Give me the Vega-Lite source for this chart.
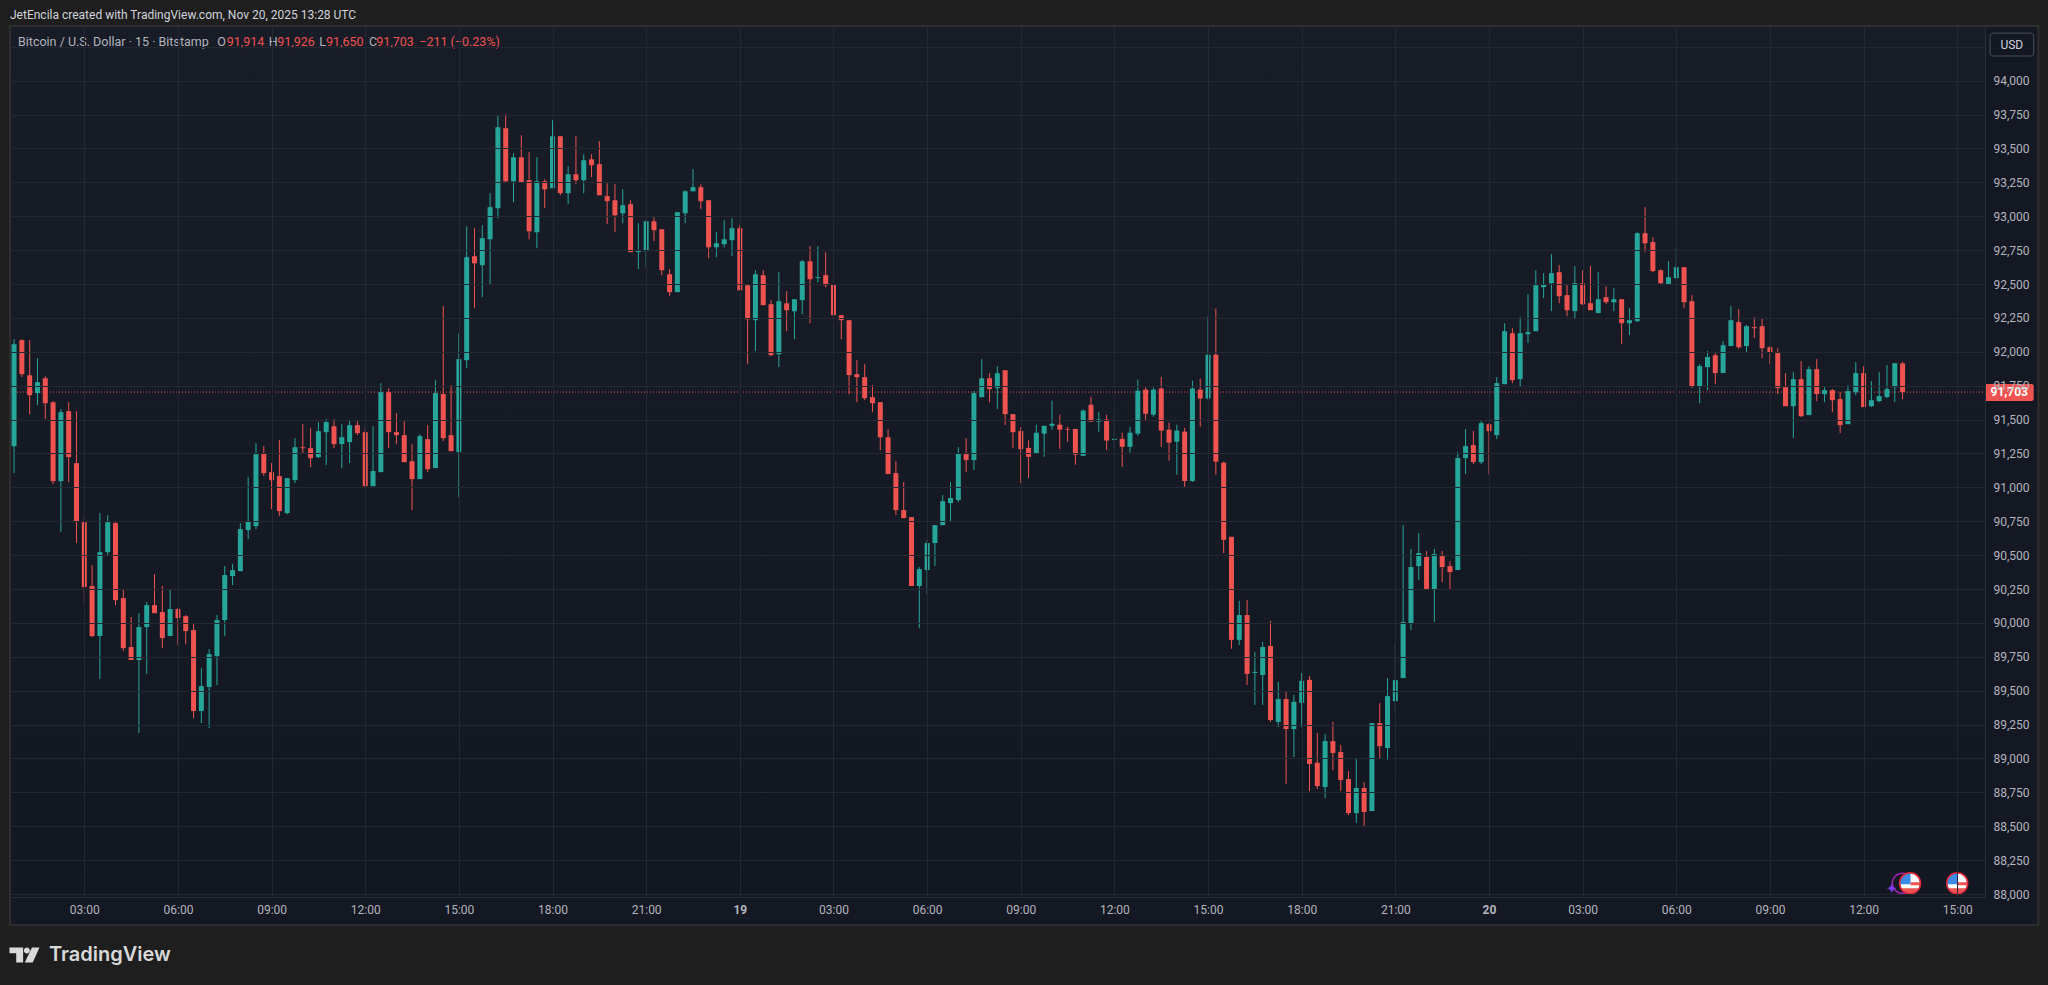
{
  "$schema": "https://vega.github.io/schema/vega-lite/v6.json",
  "autosize": {"type": "none"},
  "width": 1974,
  "height": 870,
  "padding": {"left": 11, "top": 27, "right": 63, "bottom": 88},
  "background": "#1e1e1e",
  "view": {"stroke": null, "fill": {"gradient": "linear", "x1": 0, "y1": 0, "x2": 0, "y2": 1, "stops": [{"offset": 0, "color": "#181c27"}, {"offset": 1, "color": "#131722"}]}},
  "config": {"font": "Roboto"},
  "datasets": {
    "candles": [
      {"t":"2025-11-18T00:45:00Z","o":91304,"h":92093,"l":91105,"c":92056},
      {"t":"2025-11-18T01:00:00Z","o":92086,"h":92093,"l":91813,"c":91835},
      {"t":"2025-11-18T01:15:00Z","o":91827,"h":92086,"l":91540,"c":91680},
      {"t":"2025-11-18T01:30:00Z","o":91695,"h":91953,"l":91606,"c":91776},
      {"t":"2025-11-18T01:45:00Z","o":91805,"h":91820,"l":91503,"c":91621},
      {"t":"2025-11-18T02:00:00Z","o":91628,"h":91636,"l":91024,"c":91046},
      {"t":"2025-11-18T02:15:00Z","o":91046,"h":91577,"l":90670,"c":91555},
      {"t":"2025-11-18T02:30:00Z","o":91562,"h":91628,"l":91038,"c":91223},
      {"t":"2025-11-18T02:45:00Z","o":91179,"h":91562,"l":90589,"c":90751},
      {"t":"2025-11-18T03:00:00Z","o":90743,"h":90780,"l":90154,"c":90264},
      {"t":"2025-11-18T03:15:00Z","o":90272,"h":90426,"l":89895,"c":89903},
      {"t":"2025-11-18T03:30:00Z","o":89903,"h":90810,"l":89586,"c":90522},
      {"t":"2025-11-18T03:45:00Z","o":90522,"h":90795,"l":90493,"c":90743},
      {"t":"2025-11-18T04:00:00Z","o":90736,"h":90743,"l":90131,"c":90168},
      {"t":"2025-11-18T04:15:00Z","o":90183,"h":90249,"l":89792,"c":89814},
      {"t":"2025-11-18T04:30:00Z","o":89822,"h":90043,"l":89726,"c":89726},
      {"t":"2025-11-18T04:45:00Z","o":89726,"h":90072,"l":89188,"c":89969},
      {"t":"2025-11-18T05:00:00Z","o":89969,"h":90154,"l":89623,"c":90131},
      {"t":"2025-11-18T05:15:00Z","o":90131,"h":90360,"l":90072,"c":90072},
      {"t":"2025-11-18T05:30:00Z","o":90080,"h":90272,"l":89814,"c":89888},
      {"t":"2025-11-18T05:45:00Z","o":89903,"h":90249,"l":89903,"c":90102},
      {"t":"2025-11-18T06:00:00Z","o":90102,"h":90109,"l":89836,"c":90036},
      {"t":"2025-11-18T06:15:00Z","o":90050,"h":90058,"l":89844,"c":89940},
      {"t":"2025-11-18T06:30:00Z","o":89947,"h":89999,"l":89298,"c":89350},
      {"t":"2025-11-18T06:45:00Z","o":89350,"h":89667,"l":89261,"c":89534},
      {"t":"2025-11-18T07:00:00Z","o":89527,"h":89807,"l":89224,"c":89770},
      {"t":"2025-11-18T07:15:00Z","o":89755,"h":90058,"l":89541,"c":90021},
      {"t":"2025-11-18T07:30:00Z","o":90021,"h":90419,"l":89903,"c":90353},
      {"t":"2025-11-18T07:45:00Z","o":90345,"h":90434,"l":90279,"c":90389},
      {"t":"2025-11-18T08:00:00Z","o":90382,"h":90736,"l":90382,"c":90692},
      {"t":"2025-11-18T08:15:00Z","o":90685,"h":91075,"l":90618,"c":90751},
      {"t":"2025-11-18T08:30:00Z","o":90714,"h":91326,"l":90692,"c":91245},
      {"t":"2025-11-18T08:45:00Z","o":91252,"h":91304,"l":91083,"c":91105},
      {"t":"2025-11-18T09:00:00Z","o":91112,"h":91179,"l":90839,"c":91053},
      {"t":"2025-11-18T09:15:00Z","o":91083,"h":91348,"l":90788,"c":90825},
      {"t":"2025-11-18T09:30:00Z","o":90810,"h":91068,"l":90802,"c":91068},
      {"t":"2025-11-18T09:45:00Z","o":91053,"h":91363,"l":91031,"c":91296},
      {"t":"2025-11-18T10:00:00Z","o":91296,"h":91466,"l":91252,"c":91289},
      {"t":"2025-11-18T10:15:00Z","o":91289,"h":91437,"l":91149,"c":91215},
      {"t":"2025-11-18T10:30:00Z","o":91223,"h":91481,"l":91215,"c":91414},
      {"t":"2025-11-18T10:45:00Z","o":91407,"h":91503,"l":91164,"c":91481},
      {"t":"2025-11-18T11:00:00Z","o":91451,"h":91503,"l":91289,"c":91319},
      {"t":"2025-11-18T11:15:00Z","o":91319,"h":91466,"l":91142,"c":91370},
      {"t":"2025-11-18T11:30:00Z","o":91334,"h":91496,"l":91179,"c":91459},
      {"t":"2025-11-18T11:45:00Z","o":91459,"h":91496,"l":91385,"c":91400},
      {"t":"2025-11-18T12:00:00Z","o":91407,"h":91444,"l":91009,"c":91009},
      {"t":"2025-11-18T12:15:00Z","o":91009,"h":91452,"l":91009,"c":91120},
      {"t":"2025-11-18T12:30:00Z","o":91112,"h":91769,"l":91112,"c":91702},
      {"t":"2025-11-18T12:45:00Z","o":91702,"h":91732,"l":91289,"c":91407},
      {"t":"2025-11-18T13:00:00Z","o":91407,"h":91547,"l":91319,"c":91385},
      {"t":"2025-11-18T13:15:00Z","o":91385,"h":91488,"l":91186,"c":91186},
      {"t":"2025-11-18T13:30:00Z","o":91193,"h":91319,"l":90832,"c":91061},
      {"t":"2025-11-18T13:45:00Z","o":91061,"h":91393,"l":91061,"c":91378},
      {"t":"2025-11-18T14:00:00Z","o":91356,"h":91459,"l":91112,"c":91134},
      {"t":"2025-11-18T14:15:00Z","o":91142,"h":91791,"l":91142,"c":91695},
      {"t":"2025-11-18T14:30:00Z","o":91688,"h":92336,"l":91341,"c":91363},
      {"t":"2025-11-18T14:45:00Z","o":91385,"h":91754,"l":91267,"c":91267},
      {"t":"2025-11-18T15:00:00Z","o":91260,"h":92137,"l":90928,"c":91946},
      {"t":"2025-11-18T15:15:00Z","o":91938,"h":92926,"l":91879,"c":92698},
      {"t":"2025-11-18T15:30:00Z","o":92705,"h":92912,"l":92322,"c":92653},
      {"t":"2025-11-18T15:45:00Z","o":92639,"h":92934,"l":92403,"c":92838},
      {"t":"2025-11-18T16:00:00Z","o":92830,"h":93170,"l":92499,"c":93067},
      {"t":"2025-11-18T16:15:00Z","o":93059,"h":93745,"l":92985,"c":93656},
      {"t":"2025-11-18T16:30:00Z","o":93649,"h":93752,"l":93251,"c":93258},
      {"t":"2025-11-18T16:45:00Z","o":93258,"h":93465,"l":93103,"c":93435},
      {"t":"2025-11-18T17:00:00Z","o":93435,"h":93597,"l":93251,"c":93251},
      {"t":"2025-11-18T17:15:00Z","o":93266,"h":93472,"l":92830,"c":92889},
      {"t":"2025-11-18T17:30:00Z","o":92882,"h":93435,"l":92764,"c":93258},
      {"t":"2025-11-18T17:45:00Z","o":93258,"h":93273,"l":93059,"c":93199},
      {"t":"2025-11-18T18:00:00Z","o":93207,"h":93708,"l":93207,"c":93590},
      {"t":"2025-11-18T18:15:00Z","o":93590,"h":93590,"l":93155,"c":93170},
      {"t":"2025-11-18T18:30:00Z","o":93170,"h":93369,"l":93089,"c":93310},
      {"t":"2025-11-18T18:45:00Z","o":93310,"h":93590,"l":93236,"c":93266},
      {"t":"2025-11-18T19:00:00Z","o":93266,"h":93457,"l":93170,"c":93413},
      {"t":"2025-11-18T19:15:00Z","o":93420,"h":93457,"l":93288,"c":93376},
      {"t":"2025-11-18T19:30:00Z","o":93384,"h":93553,"l":93155,"c":93155},
      {"t":"2025-11-18T19:45:00Z","o":93148,"h":93243,"l":92941,"c":93111},
      {"t":"2025-11-18T20:00:00Z","o":93118,"h":93236,"l":92882,"c":93007},
      {"t":"2025-11-18T20:15:00Z","o":93022,"h":93199,"l":92948,"c":93081},
      {"t":"2025-11-18T20:30:00Z","o":93089,"h":93118,"l":92735,"c":92735},
      {"t":"2025-11-18T20:45:00Z","o":92735,"h":92948,"l":92609,"c":92749},
      {"t":"2025-11-18T21:00:00Z","o":92742,"h":92971,"l":92624,"c":92963},
      {"t":"2025-11-18T21:15:00Z","o":92963,"h":92993,"l":92816,"c":92897},
      {"t":"2025-11-18T21:30:00Z","o":92904,"h":92904,"l":92565,"c":92602},
      {"t":"2025-11-18T21:45:00Z","o":92572,"h":92609,"l":92410,"c":92440},
      {"t":"2025-11-18T22:00:00Z","o":92440,"h":93030,"l":92440,"c":93030},
      {"t":"2025-11-18T22:15:00Z","o":93022,"h":93192,"l":92948,"c":93184},
      {"t":"2025-11-18T22:30:00Z","o":93184,"h":93347,"l":93184,"c":93214},
      {"t":"2025-11-18T22:45:00Z","o":93214,"h":93236,"l":93052,"c":93111},
      {"t":"2025-11-18T23:00:00Z","o":93118,"h":93118,"l":92690,"c":92771},
      {"t":"2025-11-18T23:15:00Z","o":92771,"h":92882,"l":92698,"c":92801},
      {"t":"2025-11-18T23:30:00Z","o":92794,"h":92971,"l":92771,"c":92830},
      {"t":"2025-11-18T23:45:00Z","o":92823,"h":92985,"l":92705,"c":92912},
      {"t":"2025-11-19T00:00:00Z","o":92912,"h":92934,"l":92454,"c":92454},
      {"t":"2025-11-19T00:15:00Z","o":92491,"h":92499,"l":91909,"c":92240},
      {"t":"2025-11-19T00:30:00Z","o":92233,"h":92602,"l":92005,"c":92572},
      {"t":"2025-11-19T00:45:00Z","o":92565,"h":92602,"l":92344,"c":92344},
      {"t":"2025-11-19T01:00:00Z","o":92351,"h":92381,"l":91968,"c":91975},
      {"t":"2025-11-19T01:15:00Z","o":91982,"h":92587,"l":91887,"c":92373},
      {"t":"2025-11-19T01:30:00Z","o":92358,"h":92447,"l":92152,"c":92307},
      {"t":"2025-11-19T01:45:00Z","o":92299,"h":92388,"l":92093,"c":92388},
      {"t":"2025-11-19T02:00:00Z","o":92381,"h":92676,"l":92277,"c":92668},
      {"t":"2025-11-19T02:15:00Z","o":92668,"h":92779,"l":92211,"c":92535},
      {"t":"2025-11-19T02:30:00Z","o":92543,"h":92779,"l":92513,"c":92550},
      {"t":"2025-11-19T02:45:00Z","o":92565,"h":92735,"l":92476,"c":92491},
      {"t":"2025-11-19T03:00:00Z","o":92499,"h":92565,"l":92270,"c":92270},
      {"t":"2025-11-19T03:15:00Z","o":92270,"h":92270,"l":92093,"c":92233},
      {"t":"2025-11-19T03:30:00Z","o":92233,"h":92233,"l":91687,"c":91828},
      {"t":"2025-11-19T03:45:00Z","o":91835,"h":91938,"l":91628,"c":91813},
      {"t":"2025-11-19T04:00:00Z","o":91813,"h":91909,"l":91643,"c":91658},
      {"t":"2025-11-19T04:15:00Z","o":91665,"h":91754,"l":91555,"c":91621},
      {"t":"2025-11-19T04:30:00Z","o":91628,"h":91628,"l":91274,"c":91370},
      {"t":"2025-11-19T04:45:00Z","o":91370,"h":91429,"l":91098,"c":91098},
      {"t":"2025-11-19T05:00:00Z","o":91105,"h":91193,"l":90795,"c":90832},
      {"t":"2025-11-19T05:15:00Z","o":90832,"h":91038,"l":90773,"c":90773},
      {"t":"2025-11-19T05:30:00Z","o":90780,"h":90780,"l":90272,"c":90272},
      {"t":"2025-11-19T05:45:00Z","o":90272,"h":90412,"l":89961,"c":90397},
      {"t":"2025-11-19T06:00:00Z","o":90390,"h":90611,"l":90213,"c":90589},
      {"t":"2025-11-19T06:15:00Z","o":90589,"h":90721,"l":90419,"c":90721},
      {"t":"2025-11-19T06:30:00Z","o":90721,"h":90943,"l":90721,"c":90898},
      {"t":"2025-11-19T06:45:00Z","o":90884,"h":91038,"l":90744,"c":90921},
      {"t":"2025-11-19T07:00:00Z","o":90906,"h":91297,"l":90891,"c":91252},
      {"t":"2025-11-19T07:15:00Z","o":91252,"h":91363,"l":91112,"c":91201},
      {"t":"2025-11-19T07:30:00Z","o":91201,"h":91710,"l":91127,"c":91695},
      {"t":"2025-11-19T07:45:00Z","o":91665,"h":91946,"l":91665,"c":91805},
      {"t":"2025-11-19T08:00:00Z","o":91805,"h":91842,"l":91628,"c":91724},
      {"t":"2025-11-19T08:15:00Z","o":91732,"h":91894,"l":91577,"c":91842},
      {"t":"2025-11-19T08:30:00Z","o":91864,"h":91864,"l":91459,"c":91540},
      {"t":"2025-11-19T08:45:00Z","o":91540,"h":91540,"l":91289,"c":91407},
      {"t":"2025-11-19T09:00:00Z","o":91415,"h":91444,"l":91031,"c":91282},
      {"t":"2025-11-19T09:15:00Z","o":91291,"h":91347,"l":91070,"c":91225},
      {"t":"2025-11-19T09:30:00Z","o":91248,"h":91462,"l":91248,"c":91403},
      {"t":"2025-11-19T09:45:00Z","o":91396,"h":91454,"l":91225,"c":91454},
      {"t":"2025-11-19T10:00:00Z","o":91454,"h":91640,"l":91426,"c":91469},
      {"t":"2025-11-19T10:15:00Z","o":91462,"h":91536,"l":91284,"c":91426},
      {"t":"2025-11-19T10:30:00Z","o":91431,"h":91447,"l":91337,"c":91426},
      {"t":"2025-11-19T10:45:00Z","o":91431,"h":91431,"l":91167,"c":91241},
      {"t":"2025-11-19T11:00:00Z","o":91233,"h":91574,"l":91233,"c":91566},
      {"t":"2025-11-19T11:15:00Z","o":91609,"h":91668,"l":91485,"c":91485},
      {"t":"2025-11-19T11:30:00Z","o":91485,"h":91558,"l":91411,"c":91500},
      {"t":"2025-11-19T11:45:00Z","o":91500,"h":91536,"l":91276,"c":91345},
      {"t":"2025-11-19T12:00:00Z","o":91350,"h":91536,"l":91284,"c":91358},
      {"t":"2025-11-19T12:15:00Z","o":91358,"h":91403,"l":91152,"c":91299},
      {"t":"2025-11-19T12:30:00Z","o":91299,"h":91447,"l":91256,"c":91403},
      {"t":"2025-11-19T12:45:00Z","o":91396,"h":91795,"l":91380,"c":91713},
      {"t":"2025-11-19T13:00:00Z","o":91721,"h":91736,"l":91492,"c":91543},
      {"t":"2025-11-19T13:15:00Z","o":91536,"h":91736,"l":91520,"c":91721},
      {"t":"2025-11-19T13:30:00Z","o":91729,"h":91815,"l":91299,"c":91419},
      {"t":"2025-11-19T13:45:00Z","o":91426,"h":91477,"l":91197,"c":91330},
      {"t":"2025-11-19T14:00:00Z","o":91337,"h":91462,"l":91093,"c":91419},
      {"t":"2025-11-19T14:15:00Z","o":91411,"h":91439,"l":91004,"c":91047},
      {"t":"2025-11-19T14:30:00Z","o":91047,"h":91787,"l":91040,"c":91729},
      {"t":"2025-11-19T14:45:00Z","o":91721,"h":91802,"l":91447,"c":91655},
      {"t":"2025-11-19T15:00:00Z","o":91655,"h":92260,"l":91647,"c":91978},
      {"t":"2025-11-19T15:15:00Z","o":91978,"h":92319,"l":91093,"c":91190},
      {"t":"2025-11-19T15:30:00Z","o":91182,"h":91190,"l":90516,"c":90613},
      {"t":"2025-11-19T15:45:00Z","o":90635,"h":90635,"l":89809,"c":89875},
      {"t":"2025-11-19T16:00:00Z","o":89875,"h":90163,"l":89837,"c":90058},
      {"t":"2025-11-19T16:15:00Z","o":90058,"h":90170,"l":89542,"c":89624},
      {"t":"2025-11-19T16:30:00Z","o":89631,"h":89786,"l":89395,"c":89639},
      {"t":"2025-11-19T16:45:00Z","o":89616,"h":89860,"l":89395,"c":89822},
      {"t":"2025-11-19T17:00:00Z","o":89830,"h":90015,"l":89270,"c":89283},
      {"t":"2025-11-19T17:15:00Z","o":89270,"h":89565,"l":89232,"c":89438},
      {"t":"2025-11-19T17:30:00Z","o":89438,"h":89491,"l":88813,"c":89217},
      {"t":"2025-11-19T17:45:00Z","o":89217,"h":89469,"l":89011,"c":89418},
      {"t":"2025-11-19T18:00:00Z","o":89410,"h":89631,"l":89232,"c":89573},
      {"t":"2025-11-19T18:15:00Z","o":89580,"h":89608,"l":88759,"c":88960},
      {"t":"2025-11-19T18:30:00Z","o":88968,"h":89189,"l":88774,"c":88797},
      {"t":"2025-11-19T18:45:00Z","o":88790,"h":89181,"l":88708,"c":89128},
      {"t":"2025-11-19T19:00:00Z","o":89128,"h":89270,"l":88914,"c":89041},
      {"t":"2025-11-19T19:15:00Z","o":89047,"h":89099,"l":88760,"c":88841},
      {"t":"2025-11-19T19:30:00Z","o":88848,"h":88907,"l":88583,"c":88597},
      {"t":"2025-11-19T19:45:00Z","o":88597,"h":88995,"l":88524,"c":88782},
      {"t":"2025-11-19T20:00:00Z","o":88782,"h":88826,"l":88502,"c":88605},
      {"t":"2025-11-19T20:15:00Z","o":88612,"h":89261,"l":88612,"c":89261},
      {"t":"2025-11-19T20:30:00Z","o":89261,"h":89408,"l":89003,"c":89091},
      {"t":"2025-11-19T20:45:00Z","o":89077,"h":89593,"l":88988,"c":89460},
      {"t":"2025-11-19T21:00:00Z","o":89423,"h":89851,"l":89342,"c":89578},
      {"t":"2025-11-19T21:15:00Z","o":89593,"h":90722,"l":89593,"c":90006},
      {"t":"2025-11-19T21:30:00Z","o":89998,"h":90545,"l":89947,"c":90412},
      {"t":"2025-11-19T21:45:00Z","o":90419,"h":90663,"l":90316,"c":90515},
      {"t":"2025-11-19T22:00:00Z","o":90486,"h":90530,"l":90250,"c":90250},
      {"t":"2025-11-19T22:15:00Z","o":90242,"h":90545,"l":90006,"c":90508},
      {"t":"2025-11-19T22:30:00Z","o":90493,"h":90530,"l":90301,"c":90412},
      {"t":"2025-11-19T22:45:00Z","o":90419,"h":90456,"l":90242,"c":90375},
      {"t":"2025-11-19T23:00:00Z","o":90390,"h":91260,"l":90390,"c":91216},
      {"t":"2025-11-19T23:15:00Z","o":91216,"h":91430,"l":91098,"c":91304},
      {"t":"2025-11-19T23:30:00Z","o":91312,"h":91415,"l":91171,"c":91186},
      {"t":"2025-11-19T23:45:00Z","o":91186,"h":91496,"l":91171,"c":91474},
      {"t":"2025-11-20T00:00:00Z","o":91466,"h":91474,"l":91098,"c":91415},
      {"t":"2025-11-20T00:15:00Z","o":91385,"h":91813,"l":91356,"c":91769},
      {"t":"2025-11-20T00:30:00Z","o":91761,"h":92211,"l":91761,"c":92152},
      {"t":"2025-11-20T00:45:00Z","o":92137,"h":92174,"l":91769,"c":91791},
      {"t":"2025-11-20T01:00:00Z","o":91798,"h":92255,"l":91739,"c":92137},
      {"t":"2025-11-20T01:15:00Z","o":92130,"h":92425,"l":92064,"c":92145},
      {"t":"2025-11-20T01:30:00Z","o":92152,"h":92602,"l":92152,"c":92491},
      {"t":"2025-11-20T01:45:00Z","o":92477,"h":92580,"l":92396,"c":92499},
      {"t":"2025-11-20T02:00:00Z","o":92506,"h":92720,"l":92300,"c":92580},
      {"t":"2025-11-20T02:15:00Z","o":92587,"h":92639,"l":92359,"c":92410},
      {"t":"2025-11-20T02:30:00Z","o":92418,"h":92499,"l":92263,"c":92307},
      {"t":"2025-11-20T02:45:00Z","o":92300,"h":92632,"l":92241,"c":92506},
      {"t":"2025-11-20T03:00:00Z","o":92506,"h":92602,"l":92344,"c":92351},
      {"t":"2025-11-20T03:15:00Z","o":92359,"h":92632,"l":92307,"c":92307},
      {"t":"2025-11-20T03:30:00Z","o":92285,"h":92587,"l":92285,"c":92388},
      {"t":"2025-11-20T03:45:00Z","o":92403,"h":92484,"l":92351,"c":92366},
      {"t":"2025-11-20T04:00:00Z","o":92366,"h":92469,"l":92300,"c":92388},
      {"t":"2025-11-20T04:15:00Z","o":92388,"h":92388,"l":92056,"c":92211},
      {"t":"2025-11-20T04:30:00Z","o":92211,"h":92322,"l":92123,"c":92233},
      {"t":"2025-11-20T04:45:00Z","o":92226,"h":92882,"l":92219,"c":92875},
      {"t":"2025-11-20T05:00:00Z","o":92875,"h":93067,"l":92735,"c":92801},
      {"t":"2025-11-20T05:15:00Z","o":92809,"h":92845,"l":92587,"c":92595},
      {"t":"2025-11-20T05:30:00Z","o":92602,"h":92609,"l":92499,"c":92506},
      {"t":"2025-11-20T05:45:00Z","o":92499,"h":92668,"l":92499,"c":92550},
      {"t":"2025-11-20T06:00:00Z","o":92543,"h":92772,"l":92536,"c":92624},
      {"t":"2025-11-20T06:15:00Z","o":92624,"h":92624,"l":92322,"c":92366},
      {"t":"2025-11-20T06:30:00Z","o":92373,"h":92418,"l":91732,"c":91747},
      {"t":"2025-11-20T06:45:00Z","o":91747,"h":91909,"l":91621,"c":91894},
      {"t":"2025-11-20T07:00:00Z","o":91887,"h":92005,"l":91717,"c":91961},
      {"t":"2025-11-20T07:15:00Z","o":91975,"h":91990,"l":91761,"c":91843},
      {"t":"2025-11-20T07:30:00Z","o":91843,"h":92079,"l":91843,"c":92049},
      {"t":"2025-11-20T07:45:00Z","o":92042,"h":92337,"l":92042,"c":92233},
      {"t":"2025-11-20T08:00:00Z","o":92219,"h":92315,"l":92020,"c":92034},
      {"t":"2025-11-20T08:15:00Z","o":92042,"h":92197,"l":91997,"c":92189},
      {"t":"2025-11-20T08:30:00Z","o":92182,"h":92255,"l":92101,"c":92174},
      {"t":"2025-11-20T08:45:00Z","o":92189,"h":92248,"l":91953,"c":92027},
      {"t":"2025-11-20T09:00:00Z","o":92034,"h":92042,"l":91909,"c":91997},
      {"t":"2025-11-20T09:15:00Z","o":91997,"h":92027,"l":91688,"c":91732},
      {"t":"2025-11-20T09:30:00Z","o":91739,"h":91843,"l":91599,"c":91599},
      {"t":"2025-11-20T09:45:00Z","o":91599,"h":91850,"l":91363,"c":91798},
      {"t":"2025-11-20T10:00:00Z","o":91798,"h":91931,"l":91518,"c":91525},
      {"t":"2025-11-20T10:15:00Z","o":91533,"h":91894,"l":91533,"c":91872},
      {"t":"2025-11-20T10:30:00Z","o":91872,"h":91946,"l":91636,"c":91688},
      {"t":"2025-11-20T10:45:00Z","o":91688,"h":91739,"l":91629,"c":91717},
      {"t":"2025-11-20T11:00:00Z","o":91717,"h":91725,"l":91555,"c":91643},
      {"t":"2025-11-20T11:15:00Z","o":91651,"h":91702,"l":91400,"c":91459},
      {"t":"2025-11-20T11:30:00Z","o":91466,"h":91754,"l":91466,"c":91710},
      {"t":"2025-11-20T11:45:00Z","o":91702,"h":91924,"l":91680,"c":91843},
      {"t":"2025-11-20T12:00:00Z","o":91843,"h":91894,"l":91592,"c":91592},
      {"t":"2025-11-20T12:15:00Z","o":91599,"h":91784,"l":91592,"c":91643},
      {"t":"2025-11-20T12:30:00Z","o":91636,"h":91850,"l":91629,"c":91673},
      {"t":"2025-11-20T12:45:00Z","o":91666,"h":91902,"l":91658,"c":91725},
      {"t":"2025-11-20T13:00:00Z","o":91739,"h":91916,"l":91629,"c":91916},
      {"t":"2025-11-20T13:15:00Z","o":91914,"h":91926,"l":91650,"c":91703}
    ],
    "header": [
      {"t":"2025-11-18T00:52:34Z","p":94287,"label":"Bitcoin / U.S. Dollar · 15 · Bitstamp","kind":"name"},
      {"t":"2025-11-18T07:15:36Z","p":94287,"label":"O","kind":"name"},
      {"t":"2025-11-18T07:33:43Z","p":94287,"label":"91,914","kind":"quote"},
      {"t":"2025-11-18T08:54:25Z","p":94287,"label":"H","kind":"name"},
      {"t":"2025-11-18T09:10:59Z","p":94287,"label":"91,926","kind":"quote"},
      {"t":"2025-11-18T10:31:41Z","p":94287,"label":"L","kind":"name"},
      {"t":"2025-11-18T10:44:35Z","p":94287,"label":"91,650","kind":"quote"},
      {"t":"2025-11-18T12:07:12Z","p":94287,"label":"C","kind":"name"},
      {"t":"2025-11-18T12:21:14Z","p":94287,"label":"91,703","kind":"quote"},
      {"t":"2025-11-18T13:43:52Z","p":94287,"label":"−211 (−0.23%)","kind":"quote"}
    ],
    "flags": [
      {"t":"2025-11-20T13:29:24Z","p":88079},
      {"t":"2025-11-20T15:00:00Z","p":88079}
    ]
  },
  "data": {"name": "candles"},
  "encoding": {
    "x": {
      "field": "t",
      "type": "temporal",
      "title": null,
      "scale": {"type": "utc", "domain": [1763426347200, 1763654004000], "nice": false, "padding": 0},
      "axis": {
        "values": [1763434800000,1763445600000,1763456400000,1763467200000,1763478000000,1763488800000,1763499600000,1763510400000,1763521200000,1763532000000,1763542800000,1763553600000,1763564400000,1763575200000,1763586000000,1763596800000,1763607600000,1763618400000,1763629200000,1763640000000,1763650800000],
        "labelExpr": "utchours(datum.value) == 0 ? utcFormat(datum.value, '%-d') : utcFormat(datum.value, '%H:%M')",
        "labelFontWeight": {"condition": {"test": "utchours(datum.value) == 0", "value": "bold"}, "value": "normal"},
        "labelColor": "#b2b5be",
        "labelFontSize": 12,
        "labelPadding": 7,
        "ticks": false,
        "grid": true,
        "gridColor": "#242832",
        "domainColor": "#2a2e39",
        "zindex": 1
      }
    },
    "y": {
      "field": "p",
      "type": "quantitative",
      "title": null,
      "scale": {"domain": [87978, 94396], "nice": false, "zero": false},
      "axis": {
        "orient": "right",
        "values": [88000,88250,88500,88750,89000,89250,89500,89750,90000,90250,90500,90750,91000,91250,91500,91750,92000,92250,92500,92750,93000,93250,93500,93750,94000,94250],
        "labelExpr": "datum.value >= 94250 ? '' : format(datum.value, ',')",
        "labelColor": "#b2b5be",
        "labelFontSize": 12,
        "labelPadding": 8,
        "ticks": false,
        "grid": true,
        "gridColor": "#242832",
        "domainColor": "#2a2e39",
        "zindex": 1
      }
    }
  },
  "layer": [
    {
      "data": {"values": [
        {"t":"2025-11-20T15:53:24Z","t2":"2025-11-20T17:35:17Z","p":94396,"p2":87779},
        {"t":"2025-11-18T00:39:07Z","t2":"2025-11-20T15:53:24Z","p":87978,"p2":87779}
      ]},
      "mark": {"type": "rect", "fill": "#141823"},
      "encoding": {"x2": {"field": "t2"}, "y2": {"field": "p2"}}
    },
    {
      "data": {"values": [{"t":"2025-11-18T00:37:12Z","t2":"2025-11-20T17:36:00Z","p":94403,"p2":87771}]},
      "mark": {"type": "rect", "filled": false, "stroke": "#2e2e2e", "strokeWidth": 2},
      "encoding": {"x2": {"field": "t2"}, "y2": {"field": "p2"}}
    },
    {
      "data": {"values": [{"t":"2025-11-18T00:37:12Z","p":94484,"label":"JetEncila created with TradingView.com, Nov 20, 2025 13:28 UTC"}]},
      "mark": {"type": "text", "align": "left", "baseline": "middle", "fontSize": 12, "color": "#d1d4dc"},
      "encoding": {"text": {"field": "label"}}
    },
    {
      "data": {"values": [{"t":"2025-11-18T00:39:07Z","t2":"2025-11-20T15:53:24Z","p":91703}]},
      "mark": {"type": "rule", "color": "#ef5350", "strokeWidth": 1, "strokeDash": [1, 2]},
      "encoding": {"x2": {"field": "t2"}}
    },
    {
      "mark": {"type": "rule", "strokeWidth": 1},
      "encoding": {
        "y": {
          "field": "l",
          "type": "quantitative",
          "title": null,
          "axis": {
            "orient": "right",
            "values": [88000,88250,88500,88750,89000,89250,89500,89750,90000,90250,90500,90750,91000,91250,91500,91750,92000,92250,92500,92750,93000,93250,93500,93750,94000,94250],
            "labelExpr": "datum.value >= 94250 ? '' : format(datum.value, ',')",
            "labelColor": "#b2b5be",
            "labelFontSize": 12,
            "labelPadding": 8,
            "ticks": false,
            "grid": true,
            "gridColor": "#242832",
            "domainColor": "#2a2e39",
            "zindex": 1
          }
        },
        "y2": {"field": "h"},
        "color": {"condition": {"test": "datum.c >= datum.o", "value": "#26a69a"}, "value": "#ef5350"}
      }
    },
    {
      "mark": {"type": "bar", "width": 5, "orient": "vertical"},
      "encoding": {
        "y": {
          "field": "o",
          "type": "quantitative",
          "title": null,
          "axis": {
            "orient": "right",
            "values": [88000,88250,88500,88750,89000,89250,89500,89750,90000,90250,90500,90750,91000,91250,91500,91750,92000,92250,92500,92750,93000,93250,93500,93750,94000,94250],
            "labelExpr": "datum.value >= 94250 ? '' : format(datum.value, ',')",
            "labelColor": "#b2b5be",
            "labelFontSize": 12,
            "labelPadding": 8,
            "ticks": false,
            "grid": true,
            "gridColor": "#242832",
            "domainColor": "#2a2e39",
            "zindex": 1
          }
        },
        "y2": {"field": "c"},
        "color": {"condition": {"test": "datum.c >= datum.o", "value": "#26a69a"}, "value": "#ef5350"},
        "tooltip": [
          {"field": "t", "type": "temporal"},
          {"field": "o"},
          {"field": "h"},
          {"field": "l"},
          {"field": "c"}
        ]
      }
    },
    {
      "data": {"name": "header"},
      "mark": {"type": "text", "align": "left", "baseline": "middle", "fontSize": 12.5},
      "encoding": {
        "text": {"field": "label"},
        "color": {"condition": {"test": "datum.kind == 'quote'", "value": "#ef5350"}, "value": "#b2b5be"}
      }
    },
    {
      "data": {"values": [{"t":"2025-11-20T15:53:24Z","t2":"2025-11-20T17:27:00Z","p":91762,"p2":91637}]},
      "mark": {"type": "rect", "fill": "#ef5350", "cornerRadiusTopRight": 2, "cornerRadiusBottomRight": 2},
      "encoding": {"x2": {"field": "t2"}, "y2": {"field": "p2"}}
    },
    {
      "data": {"values": [{"t":"2025-11-20T16:40:00Z","p":91703,"label":"91,703"}]},
      "mark": {"type": "text", "align": "center", "baseline": "middle", "fontSize": 12, "fontWeight": "bold", "color": "#ffffff"},
      "encoding": {"text": {"field": "label"}}
    },
    {
      "data": {"values": [{"t":"2025-11-20T16:03:00Z","t2":"2025-11-20T17:27:00Z","p":94351,"p2":94182}]},
      "mark": {"type": "rect", "fill": "#131722", "stroke": "#4a4e58", "strokeWidth": 1, "cornerRadius": 3},
      "encoding": {"x2": {"field": "t2"}, "y2": {"field": "p2"}}
    },
    {
      "data": {"values": [{"t":"2025-11-20T16:45:00Z","p":94266,"label":"USD"}]},
      "mark": {"type": "text", "align": "center", "baseline": "middle", "fontSize": 12, "color": "#d1d4dc"},
      "encoding": {"text": {"field": "label"}}
    },
    {
      "data": {"values": [{"t":"2025-11-18T01:52:08Z","p":87550,"label":"TradingView"}]},
      "mark": {"type": "text", "align": "left", "baseline": "middle", "font": "Inter", "fontSize": 20, "fontWeight": 600, "color": "#d9d9d9"},
      "encoding": {"text": {"field": "label"}}
    },
    {
      "data": {"values": [{"t":"2025-11-18T01:05:00Z","p":87550}]},
      "mark": {"type": "point", "filled": true, "size": 900, "strokeWidth": 0, "opacity": 1, "color": "#d9d9d9", "shape": "M-1,-0.5 H-0.09 V0.5 H-0.55 V-0.12 H-1 Z M0.36,-0.3 A0.2,0.2 0 1 1 -0.04,-0.3 A0.2,0.2 0 1 1 0.36,-0.3 Z M0.5,-0.5 H1 L0.55,0.5 H0.02 Z"}
    },
    {
      "data": {"values": [{"t":"2025-11-20T13:14:24Z","p":88079}]},
      "mark": {"type": "point", "shape": "circle", "filled": false, "size": 400, "strokeWidth": 1.5, "opacity": 1, "color": "#9c27b0"}
    },
    {
      "data": {"values": [{"t":"2025-11-20T12:54:00Z","p":88042}]},
      "mark": {"type": "point", "filled": true, "size": 100, "strokeWidth": 0, "opacity": 1, "color": "#7c3aed", "shape": "M0,-1 Q0.15,-0.15 1,0 Q0.15,0.15 0,1 Q-0.15,0.15 -1,0 Q-0.15,-0.15 0,-1 Z"}
    },
    {
      "data": {"name": "flags"},
      "mark": {"type": "point", "shape": "circle", "filled": true, "size": 400, "strokeWidth": 0, "opacity": 1, "color": "#ffffff"}
    },
    {
      "data": {"name": "flags"},
      "mark": {"type": "point", "filled": true, "size": 400, "strokeWidth": 0, "opacity": 1, "color": "#3c8ce7", "shape": "M-1,0.1 A1,1 0 0 1 0.05,-1 V0.1 Z"}
    },
    {
      "data": {"name": "flags"},
      "mark": {"type": "point", "filled": true, "size": 400, "strokeWidth": 0, "opacity": 1, "color": "#ef5350", "shape": "M0.05,-0.1 H0.99 V0.2 H0.05 Z M-0.85,0.5 H0.85 A1,1 0 0 1 -0.85,0.5 Z"}
    },
    {
      "data": {"name": "flags"},
      "mark": {"type": "point", "shape": "circle", "filled": false, "size": 441, "strokeWidth": 1.5, "opacity": 1, "color": "#e3263a"}
    }
  ]
}
